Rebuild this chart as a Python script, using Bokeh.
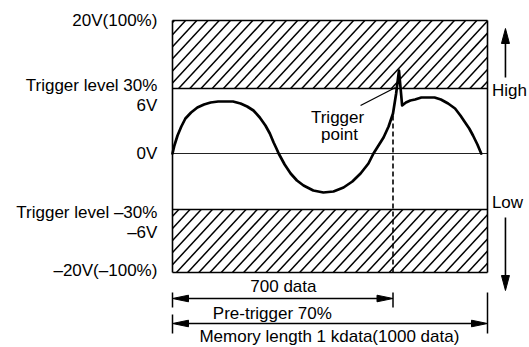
import numpy as np
from bokeh.plotting import figure
from bokeh.models import Range1d
from bokeh.core.properties import value
from bokeh.embed import file_html
from bokeh.resources import INLINE

# ---------------- data ----------------
memory_length = 1000          # data points in memory
pretrigger_points = 700       # trigger position
# drawing levels (vertical drawing units, 0 = 0 V line)
level_top = 133               # 20V (100%)
level_trig_hi = 65            # trigger level 30%
level_zero = 0                # 0V
level_trig_lo = -56           # trigger level -30%
level_bottom = -119           # -20V (-100%)

label_text = ["20V(100%)", "Trigger level 30%", "6V", "0V",
              "Trigger level \u201330%", "\u20136V", "\u201320V(\u2013100%)"]
label_y = [133, 68, 48, 0, -59, -79, -117]

wave_x = [0, 6, 16, 28, 41, 59, 79, 100, 121, 145, 168, 192, 216, 237, 257,
          277, 295, 309, 321, 330, 337, 356, 375, 395, 416, 447, 479, 511,
          543, 571, 597, 622, 638, 654, 670, 686, 700, 710, 719, 729, 741,
          755, 770, 790, 811, 832, 852, 875, 897, 914, 929, 942, 954, 968, 980]
wave_y = [0, 8, 18, 27, 35, 41, 46, 49, 51, 52, 52, 52, 50, 47, 43,
          36, 28, 20, 11, 5, 0, -11, -20, -27, -32, -37, -39, -38,
          -34, -28, -20, -10, 0, 8, 16, 27, 40, 60, 83, 48, 51,
          53, 54, 56, 56, 56, 54, 50, 45, 38, 31, 25, 18, 9, 0]

dim_labels = ["700 data", "Pre-trigger 70%", "Memory length 1 kdata(1000 data)"]
side_labels = ["High", "Low"]
pointer_labels = ["Trigger", "point"]

# ---------------- layout ----------------
W, H = 529, 347
SX = 0.315                     # px per data point
BOX_LEFT_PX = 172              # canvas px of data x = 0
ZERO_PX = 153                  # canvas px (from top) of level 0
xs = -BOX_LEFT_PX / SX
xe = xs + W / SX
ys_top = ZERO_PX
ys_bot = ZERO_PX - H

FONT = value("Liberation Sans")
FS = value("17px")

p = figure(width=W, height=H, output_backend="svg", toolbar_location=None,
           x_range=Range1d(xs, xe), y_range=Range1d(ys_bot, ys_top),
           min_border=0, min_border_left=0, min_border_right=0,
           min_border_top=0, min_border_bottom=0)
p.axis.visible = False
p.grid.visible = False
p.outline_line_color = None
p.background_fill_color = "white"
p.border_fill_color = "white"


def hatch(y0, y1, x0=0, x1=memory_length, step_px=11.2, slope_px=1.08, phase=0.0):
    m = slope_px * SX
    step = step_px / SX
    span = (y1 - y0) / m
    X0, Y0, X1, Y1 = [], [], [], []
    c = x0 - span + phase
    while c < x1:
        xa = max(c, x0)
        xb = min(c + span, x1)
        if xa < xb:
            X0.append(xa); Y0.append(y0 + m * (xa - c))
            X1.append(xb); Y1.append(y0 + m * (xb - c))
        c += step
    return X0, Y0, X1, Y1


for (a, b, ph) in [(level_trig_hi, level_top, 6.0), (level_bottom, level_trig_lo, 20.0)]:
    X0, Y0, X1, Y1 = hatch(a, b, phase=ph)
    p.segment(X0, Y0, X1, Y1, line_color="black", line_width=1.5)

# horizontal borders
for yv in [level_top, level_trig_hi, level_trig_lo, level_bottom]:
    p.line([0, memory_length], [yv, yv], line_color="black", line_width=1.5)
p.line([0, memory_length], [level_zero, level_zero], line_color="#222222", line_width=1.1)
# vertical borders
for xv in [0, memory_length]:
    p.line([xv, xv], [level_bottom, level_top], line_color="black", line_width=1.6)

# dashed trigger line
trig_y = wave_y[wave_x.index(pretrigger_points)]
p.line([pretrigger_points, pretrigger_points], [level_bottom, trig_y],
       line_color="black", line_width=1.6, line_dash="5 3")

# waveform
p.line(wave_x, wave_y, line_color="black", line_width=2.7,
       line_join="round", line_cap="round")

# trigger point pointer
p.line([597, pretrigger_points + 8], [48, level_trig_hi + 1],
       line_color="black", line_width=1.3)
p.text(x=[524, 530], y=[36, 19], text=pointer_labels, text_align="center",
       text_baseline="middle", text_font=FONT, text_font_size=FS, text_color="black")

# left labels
p.text(x=[-48] * len(label_text), y=label_y, text=label_text, text_align="right",
       text_baseline="middle", text_font=FONT, text_font_size=FS, text_color="black")

# High / Low labels and arrows
p.text(x=[1014, 1014], y=[63, -49], text=side_labels, text_align="left",
       text_baseline="middle", text_font=FONT, text_font_size=FS,
       text_color="black")
ax = 1057
hl = 15          # head length px
hw = 4 / SX      # half width in data units
p.line([ax, ax], [76, 125 - hl + 2], line_color="black", line_width=1.6)
p.patch([ax, ax - hw, ax + hw], [125, 125 - hl, 125 - hl], color="black")
p.line([ax, ax], [-64, -137 + hl - 2], line_color="black", line_width=1.6)
p.patch([ax, ax - hw, ax + hw], [-137, -137 + hl, -137 + hl], color="black")

# dimension lines
row1, row2 = -145, -170
L = 16 / SX
HW = 3.3


def harrow(x_a, x_b, yv):
    p.line([x_a + L - 2, x_b - L + 2], [yv, yv], line_color="black", line_width=1.3)
    p.patch([x_a, x_a + L, x_a + L], [yv, yv + HW, yv - HW], color="black")
    p.patch([x_b, x_b - L, x_b - L], [yv, yv + HW, yv - HW], color="black")


harrow(0, pretrigger_points, row1)
harrow(0, memory_length, row2)
# ticks
p.line([0, 0], [row1 + 6, row1 - 9], line_color="black", line_width=1.5)
p.line([0, 0], [row2 + 9, row2 - 10], line_color="black", line_width=1.5)
p.line([pretrigger_points, pretrigger_points], [row1 + 6, row1 - 9],
       line_color="black", line_width=1.5)
p.line([memory_length, memory_length], [row1 + 6, row2 - 10],
       line_color="black", line_width=1.5)

p.text(x=[352, 317, 498], y=[-133, -160, -182.5], text=dim_labels,
       text_align="center", text_baseline="middle",
       text_font=FONT, text_font_size=FS, text_color="black")

open("out.html", "w").write(file_html(p, INLINE))
